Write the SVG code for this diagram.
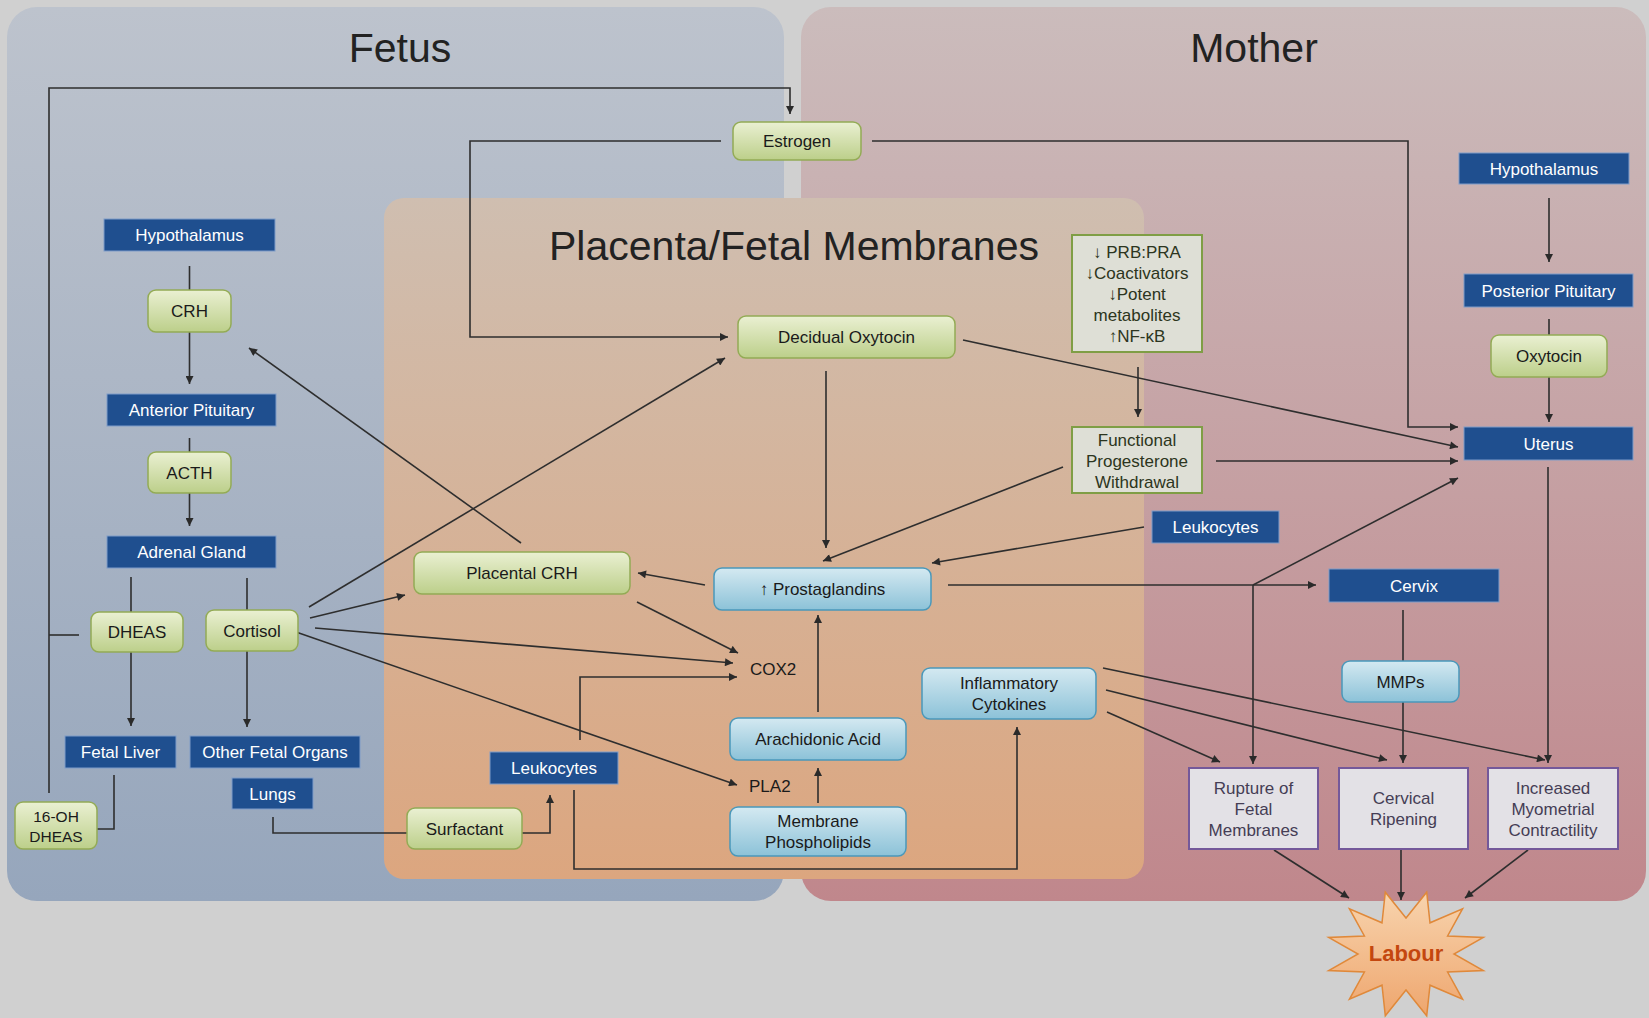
<svg xmlns="http://www.w3.org/2000/svg" width="1649" height="1018" viewBox="0 0 1649 1018">
<defs>
<linearGradient id="fetusG" x1="0" y1="0" x2="0" y2="1"><stop offset="0" stop-color="#bdc3cd"/><stop offset="1" stop-color="#96a6bc"/></linearGradient>
<linearGradient id="motherG" x1="0" y1="0" x2="0" y2="1"><stop offset="0" stop-color="#cbbcbc"/><stop offset="1" stop-color="#c0878c"/></linearGradient>
<linearGradient id="placG" x1="0" y1="0" x2="0" y2="1"><stop offset="0" stop-color="#cfbeb0"/><stop offset="1" stop-color="#dca67f"/></linearGradient>
<linearGradient id="greenG" x1="0" y1="0" x2="0" y2="1"><stop offset="0" stop-color="#eaf0d2"/><stop offset="1" stop-color="#bccf8a"/></linearGradient>
<linearGradient id="lblueG" x1="0" y1="0" x2="0" y2="1"><stop offset="0" stop-color="#d4e9f1"/><stop offset="1" stop-color="#8cc2d8"/></linearGradient>
<linearGradient id="starG" x1="0" y1="0" x2="0" y2="1"><stop offset="0" stop-color="#f8d4ae"/><stop offset="1" stop-color="#eea66e"/></linearGradient>
<marker id="ah" viewBox="0 0 10 10" refX="10" refY="5" markerWidth="9" markerHeight="8" markerUnits="userSpaceOnUse" orient="auto"><path d="M0,0 L10,5 L0,10 z" fill="#2a2a2a"/></marker>
<style>
text{font-family:"Liberation Sans",Arial,sans-serif;}
.title{font-size:41px;fill:#222;text-anchor:middle;}
.b rect{fill:#1f4f8f;stroke:#7f9cc8;stroke-width:1;}
.b text{fill:#fff;font-size:17px;text-anchor:middle;}
.g rect{fill:url(#greenG);stroke:#93ab55;stroke-width:1.5;}
.g text{fill:#1a1a1a;font-size:17px;text-anchor:middle;}
.g text.sm{font-size:15.5px;}
.lb rect{fill:url(#lblueG);stroke:#4a98ba;stroke-width:1.5;}
.lb text{fill:#1a1a1a;font-size:17px;text-anchor:middle;}
.gb rect{fill:#dedfd6;stroke:#7f9e45;stroke-width:2;}
.gb text{fill:#2c3520;font-size:17px;text-anchor:middle;}
.pb rect{fill:#e3e1e6;stroke:#74589a;stroke-width:2;}
.pb text{fill:#453d55;font-size:17px;text-anchor:middle;}
.pt{fill:#1a1a1a;font-size:17px;}
#connectors path{fill:none;stroke:#2e2e2e;stroke-width:1.6;}
#connectors path.a{marker-end:url(#ah);}
</style>
</defs>
<rect x="0" y="0" width="1649" height="1018" fill="#d0d0d0"/>
<g id="panels">
<rect x="7" y="7" width="777" height="894" rx="30" fill="url(#fetusG)"/>
<rect x="801" y="7" width="845" height="894" rx="30" fill="url(#motherG)"/>
<rect x="384" y="198" width="760" height="681" rx="20" fill="url(#placG)"/>
<text class="title" x="400" y="62">Fetus</text>
<text class="title" x="1254" y="62">Mother</text>
<text class="title" x="794" y="260">Placenta/Fetal  Membranes</text>
</g>
<g id="connectors">
<path d="M189.5,266 V290"/>
<path class="a" d="M189.5,332 V384"/>
<path d="M189.5,438 V452"/>
<path class="a" d="M189.5,493 V526"/>
<path d="M131,577 V612"/>
<path d="M247,578 V610"/>
<path class="a" d="M131,652 V726"/>
<path class="a" d="M247,651 V727"/>
<path d="M114,775 V829 H97"/>
<path class="a" d="M49,793 V88 H790 V114"/>
<path d="M79,635 H49"/>
<path class="a" d="M721,141 H470 V337 H728"/>
<path class="a" d="M872,141 H1408 V427 H1458"/>
<path class="a" d="M963,340 L1458,447"/>
<path class="a" d="M826,371 V548"/>
<path class="a" d="M1138,367 V417"/>
<path class="a" d="M1216,461 H1458"/>
<path class="a" d="M1063,467 L823,561"/>
<path class="a" d="M1144,527 L932,563"/>
<path class="a" d="M948,585 H1316"/>
<path class="a" d="M1253,585 V764"/>
<path class="a" d="M1253,585 L1458,478"/>
<path class="a" d="M1549,198 V262"/>
<path d="M1549,319 V335"/>
<path class="a" d="M1549,377 V422"/>
<path class="a" d="M1548,467 V763"/>
<path d="M1403,610 V661"/>
<path class="a" d="M1403,702 V763"/>
<path class="a" d="M1107,712 L1220,762"/>
<path class="a" d="M1106,690 L1387,760"/>
<path class="a" d="M1103,668 L1545,760"/>
<path class="a" d="M1274,850 L1349,898"/>
<path class="a" d="M1401,850 V900"/>
<path class="a" d="M1528,850 L1465,898"/>
<path class="a" d="M705,585 L638,573"/>
<path class="a" d="M521,543 L249,348"/>
<path class="a" d="M637,602 L738,653"/>
<path class="a" d="M309,607 L725,358"/>
<path class="a" d="M310,618 L405,595"/>
<path class="a" d="M315,628 L733,663"/>
<path class="a" d="M296,632 L737,785"/>
<path class="a" d="M580,740 V677 H737"/>
<path class="a" d="M818,712 V615"/>
<path class="a" d="M818,803 V768"/>
<path d="M273,817 V833 H407"/>
<path class="a" d="M522,833 H550 V795"/>
<path class="a" d="M574,790 V869 H1017 V727"/>
</g>
<g id="hypothalamus-fetus" class="b"><rect x="104" y="219" width="171" height="32"/><text x="189.5" y="241">Hypothalamus</text></g>
<g id="anterior-pituitary" class="b"><rect x="107" y="394" width="169" height="32"/><text x="191.5" y="416">Anterior Pituitary</text></g>
<g id="adrenal-gland" class="b"><rect x="107" y="536" width="169" height="32"/><text x="191.5" y="558">Adrenal Gland</text></g>
<g id="fetal-liver" class="b"><rect x="65" y="736" width="111" height="32"/><text x="120.5" y="758">Fetal Liver</text></g>
<g id="other-fetal-organs" class="b"><rect x="190" y="736" width="170" height="32"/><text x="275" y="758">Other Fetal Organs</text></g>
<g id="lungs" class="b"><rect x="232" y="778" width="81" height="31"/><text x="272.5" y="799.5">Lungs</text></g>
<g id="leukocytes-placenta" class="b"><rect x="490" y="752" width="128" height="32"/><text x="554" y="774">Leukocytes</text></g>
<g id="hypothalamus-mother" class="b"><rect x="1459" y="153" width="170" height="31"/><text x="1544" y="174.5">Hypothalamus</text></g>
<g id="posterior-pituitary" class="b"><rect x="1464" y="274" width="169" height="33"/><text x="1548.5" y="296.5">Posterior Pituitary</text></g>
<g id="uterus" class="b"><rect x="1464" y="427" width="169" height="33"/><text x="1548.5" y="449.5">Uterus</text></g>
<g id="leukocytes-mother" class="b"><rect x="1152" y="511" width="127" height="32"/><text x="1215.5" y="533">Leukocytes</text></g>
<g id="cervix" class="b"><rect x="1329" y="569" width="170" height="33"/><text x="1414" y="591.5">Cervix</text></g>
<g id="crh" class="g"><rect x="148" y="290" width="83" height="42" rx="8"/><text x="189.5" y="317">CRH</text></g>
<g id="acth" class="g"><rect x="148" y="452" width="83" height="41" rx="8"/><text x="189.5" y="478.5">ACTH</text></g>
<g id="dheas" class="g"><rect x="91" y="612" width="92" height="40" rx="8"/><text x="137" y="638">DHEAS</text></g>
<g id="cortisol" class="g"><rect x="206" y="610" width="92" height="41" rx="8"/><text x="252" y="636.5">Cortisol</text></g>
<g id="oh-dheas" class="g"><rect x="15" y="802" width="82" height="47" rx="8"/><text class="sm" x="56" y="822">16-OH</text><text class="sm" x="56" y="842">DHEAS</text></g>
<g id="estrogen" class="g"><rect x="733" y="122" width="128" height="38" rx="8"/><text x="797" y="147">Estrogen</text></g>
<g id="decidual-oxytocin" class="g"><rect x="738" y="316" width="217" height="42" rx="8"/><text x="846.5" y="343">Decidual Oxytocin</text></g>
<g id="placental-crh" class="g"><rect x="414" y="552" width="216" height="42" rx="8"/><text x="522" y="579">Placental CRH</text></g>
<g id="surfactant" class="g"><rect x="407" y="808" width="115" height="41" rx="8"/><text x="464.5" y="834.5">Surfactant</text></g>
<g id="oxytocin" class="g"><rect x="1491" y="335" width="116" height="42" rx="8"/><text x="1549" y="362">Oxytocin</text></g>
<g id="prostaglandins" class="lb"><rect x="714" y="568" width="217" height="42" rx="8"/><text x="822.5" y="595">↑ Prostaglandins</text></g>
<g id="inflammatory-cytokines" class="lb"><rect x="922" y="668" width="174" height="51" rx="8"/><text x="1009" y="689">Inflammatory</text><text x="1009" y="710">Cytokines</text></g>
<g id="arachidonic-acid" class="lb"><rect x="730" y="718" width="176" height="42" rx="8"/><text x="818" y="745">Arachidonic Acid</text></g>
<g id="membrane-phospholipids" class="lb"><rect x="730" y="807" width="176" height="49" rx="8"/><text x="818" y="827">Membrane</text><text x="818" y="848">Phospholipids</text></g>
<g id="mmps" class="lb"><rect x="1342" y="661" width="117" height="41" rx="8"/><text x="1400.5" y="687.5">MMPs</text></g>
<g id="cox2"><text class="pt" x="750" y="675">COX2</text></g>
<g id="pla2"><text class="pt" x="749" y="792">PLA2</text></g>
<g id="prb-box" class="gb"><rect x="1072" y="235" width="130" height="117"/><text x="1137" y="258">↓ PRB:PRA</text><text x="1137" y="279">↓Coactivators</text><text x="1137" y="300">↓Potent</text><text x="1137" y="321">metabolites</text><text x="1137" y="342">↑NF-κB</text></g>
<g id="functional-progesterone-withdrawal" class="gb"><rect x="1072" y="427" width="130" height="66"/><text x="1137" y="446">Functional</text><text x="1137" y="467">Progesterone</text><text x="1137" y="488">Withdrawal</text></g>
<g id="rupture" class="pb"><rect x="1189" y="768" width="129" height="81"/><text x="1253.5" y="794">Rupture of</text><text x="1253.5" y="815">Fetal</text><text x="1253.5" y="836">Membranes</text></g>
<g id="cervical-ripening" class="pb"><rect x="1339" y="768" width="129" height="81"/><text x="1403.5" y="804">Cervical</text><text x="1403.5" y="825">Ripening</text></g>
<g id="increased-myometrial" class="pb"><rect x="1488" y="768" width="130" height="81"/><text x="1553" y="794">Increased</text><text x="1553" y="815">Myometrial</text><text x="1553" y="836">Contractility</text></g>
<g id="labour">
<polygon points="1426.7,892.2 1430,922.8 1462.6,908.7 1447.6,936 1483.3,937.4 1454,954 1483.3,970.6 1447.6,972 1462.6,999.3 1430,985.2 1426.7,1015.8 1406,990 1385.3,1015.8 1382,985.2 1349.4,999.3 1364.4,972 1328.7,970.6 1358,954 1328.7,937.4 1364.4,936 1349.4,908.7 1382,922.8 1385.3,892.2 1406,918" fill="url(#starG)" stroke="#e0893a" stroke-width="1.5"/>
<text x="1406" y="961" font-size="22" font-weight="bold" fill="#c4470f" text-anchor="middle">Labour</text>
</g>
</svg>
